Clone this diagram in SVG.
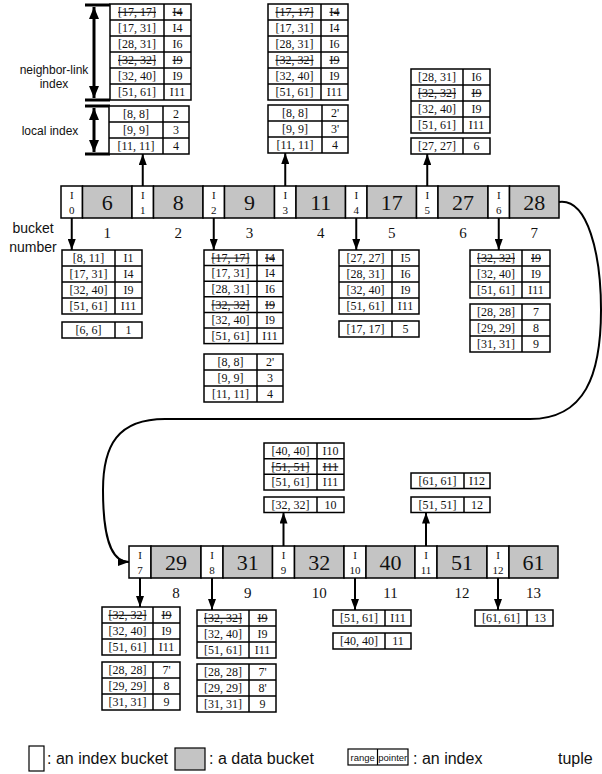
<svg xmlns="http://www.w3.org/2000/svg" width="602" height="774" viewBox="0 0 602 774">
<style>
.t{font-family:"Liberation Serif","Times New Roman",serif;font-size:12px;text-anchor:middle;fill:#111}
.s{text-decoration:line-through}
.tb{fill:#fff;stroke:#000;stroke-width:1.5}
.ln{stroke:#000;stroke-width:1.5;fill:none}
.ib{fill:#fff;stroke:#000;stroke-width:1.5}
.db{fill:#c4c4c4;stroke:#000;stroke-width:1.5}
.dn{font-family:"Liberation Serif","Times New Roman",serif;font-size:22px;text-anchor:middle;fill:#111}
.in{font-family:"Liberation Serif","Times New Roman",serif;font-size:11px;text-anchor:middle;fill:#111}
.bn{font-family:"Liberation Serif","Times New Roman",serif;font-size:15px;text-anchor:middle;fill:#111}
.sans{font-family:"Liberation Sans",Arial,sans-serif;fill:#111}
.ar{stroke:#000;stroke-width:2;fill:none;marker-end:url(#ah)}
.br{stroke:#000;stroke-width:3;fill:none}
</style>
<defs>
<marker id="ah" viewBox="0 0 11 8" refX="11" refY="4" markerWidth="11" markerHeight="8" markerUnits="userSpaceOnUse" orient="auto"><path d="M0,0 L11,4 L0,8 z" fill="#000"/></marker>
<marker id="bh" viewBox="0 0 12 10" refX="12" refY="5" markerWidth="12" markerHeight="10" markerUnits="userSpaceOnUse" orient="auto-start-reverse"><path d="M0,0 L12,5 L0,10 z" fill="#000"/></marker>
</defs>

<!-- bracket annotations -->
<g id="annot">
<line class="br" x1="85" y1="5" x2="110" y2="5"/>
<line class="br" x1="85" y1="100" x2="110" y2="100"/>
<line x1="94" y1="7" x2="94" y2="98" stroke="#000" stroke-width="3" marker-start="url(#bh)" marker-end="url(#bh)"/>
<line class="br" x1="85" y1="106" x2="110" y2="106"/>
<line class="br" x1="85" y1="154" x2="110" y2="154"/>
<line x1="94" y1="108" x2="94" y2="152" stroke="#000" stroke-width="3" marker-start="url(#bh)" marker-end="url(#bh)"/>
<text class="sans" font-size="12" text-anchor="middle" x="54" y="74">neighbor-link</text>
<text class="sans" font-size="12" text-anchor="middle" x="54" y="88">index</text>
<text class="sans" font-size="12" text-anchor="middle" x="50" y="135">local index</text>
<text class="sans" font-size="14" text-anchor="middle" x="33" y="233">bucket</text>
<text class="sans" font-size="14" text-anchor="middle" x="33" y="252">number</text>
</g>

<!-- Row 1 buckets -->
<g id="I0"><rect class="ib" x="61" y="186" width="21.5" height="32"/><text class="in" x="71.75" y="199">I</text><text class="in" x="71.75" y="214">0</text></g>
<g id="D6"><rect class="db" x="82.5" y="186" width="49.5" height="32"/><text class="dn" x="107.25" y="210">6</text></g>
<g id="I1"><rect class="ib" x="132" y="186" width="21.5" height="32"/><text class="in" x="142.75" y="199">I</text><text class="in" x="142.75" y="214">1</text></g>
<g id="D8"><rect class="db" x="153.5" y="186" width="49.5" height="32"/><text class="dn" x="178.25" y="210">8</text></g>
<g id="I2"><rect class="ib" x="203" y="186" width="21.5" height="32"/><text class="in" x="213.75" y="199">I</text><text class="in" x="213.75" y="214">2</text></g>
<g id="D9"><rect class="db" x="224.5" y="186" width="50" height="32"/><text class="dn" x="249.5" y="210">9</text></g>
<g id="I3"><rect class="ib" x="274.5" y="186" width="21.5" height="32"/><text class="in" x="285.25" y="199">I</text><text class="in" x="285.25" y="214">3</text></g>
<g id="D11"><rect class="db" x="296" y="186" width="49.5" height="32"/><text class="dn" x="320.75" y="210">11</text></g>
<g id="I4"><rect class="ib" x="345.5" y="186" width="21.5" height="32"/><text class="in" x="356.25" y="199">I</text><text class="in" x="356.25" y="214">4</text></g>
<g id="D17"><rect class="db" x="367" y="186" width="49.5" height="32"/><text class="dn" x="391.75" y="210">17</text></g>
<g id="I5"><rect class="ib" x="416.5" y="186" width="21.5" height="32"/><text class="in" x="427.25" y="199">I</text><text class="in" x="427.25" y="214">5</text></g>
<g id="D27"><rect class="db" x="438" y="186" width="50" height="32"/><text class="dn" x="463" y="210">27</text></g>
<g id="I6"><rect class="ib" x="488" y="186" width="21.5" height="32"/><text class="in" x="498.75" y="199">I</text><text class="in" x="498.75" y="214">6</text></g>
<g id="D28"><rect class="db" x="509.5" y="186" width="49.5" height="32"/><text class="dn" x="534.25" y="210">28</text></g>

<g id="bn1">
<text class="bn" x="107.25" y="238">1</text><text class="bn" x="178.25" y="238">2</text><text class="bn" x="249.5" y="238">3</text><text class="bn" x="320.75" y="238">4</text><text class="bn" x="391.75" y="238">5</text><text class="bn" x="463" y="238">6</text><text class="bn" x="534.25" y="238">7</text>
</g>

<!-- Row 2 buckets -->
<g id="I7"><rect class="ib" x="129" y="546" width="22" height="32"/><text class="in" x="140" y="559">I</text><text class="in" x="140" y="574">7</text></g>
<g id="D29"><rect class="db" x="151" y="546" width="50" height="32"/><text class="dn" x="176" y="570">29</text></g>
<g id="I8"><rect class="ib" x="201" y="546" width="22" height="32"/><text class="in" x="212" y="559">I</text><text class="in" x="212" y="574">8</text></g>
<g id="D31"><rect class="db" x="223" y="546" width="49.5" height="32"/><text class="dn" x="247.75" y="570">31</text></g>
<g id="I9"><rect class="ib" x="272.5" y="546" width="22" height="32"/><text class="in" x="283.5" y="559">I</text><text class="in" x="283.5" y="574">9</text></g>
<g id="D32"><rect class="db" x="294.5" y="546" width="49.5" height="32"/><text class="dn" x="319.25" y="570">32</text></g>
<g id="I10"><rect class="ib" x="344" y="546" width="22" height="32"/><text class="in" x="355" y="559">I</text><text class="in" x="355" y="574">10</text></g>
<g id="D40"><rect class="db" x="366" y="546" width="49" height="32"/><text class="dn" x="390.5" y="570">40</text></g>
<g id="I11"><rect class="ib" x="415" y="546" width="22" height="32"/><text class="in" x="426" y="559">I</text><text class="in" x="426" y="574">11</text></g>
<g id="D51"><rect class="db" x="437" y="546" width="50" height="32"/><text class="dn" x="462" y="570">51</text></g>
<g id="I12"><rect class="ib" x="487" y="546" width="22" height="32"/><text class="in" x="498" y="559">I</text><text class="in" x="498" y="574">12</text></g>
<g id="D61"><rect class="db" x="509" y="546" width="49" height="32"/><text class="dn" x="533.5" y="570">61</text></g>

<g id="bn2">
<text class="bn" x="176" y="598">8</text><text class="bn" x="247.75" y="598">9</text><text class="bn" x="319.25" y="598">10</text><text class="bn" x="390.5" y="598">11</text><text class="bn" x="462" y="598">12</text><text class="bn" x="533.5" y="598">13</text>
</g>

<!-- Tables above I1 -->
<g id="T1">
<rect class="tb" x="110" y="4" width="81" height="96"/>
<path class="ln" d="M110,20H191M110,36H191M110,52H191M110,68H191M110,84H191M164,4V100"/>
<text class="t s" x="137" y="16">[17, 17]</text><text class="t s" x="177.5" y="16">I4</text>
<text class="t" x="137" y="32">[17, 31]</text><text class="t" x="177.5" y="32">I4</text>
<text class="t" x="137" y="48">[28, 31]</text><text class="t" x="177.5" y="48">I6</text>
<text class="t s" x="137" y="64">[32, 32]</text><text class="t s" x="177.5" y="64">I9</text>
<text class="t" x="137" y="80">[32, 40]</text><text class="t" x="177.5" y="80">I9</text>
<text class="t" x="137" y="96">[51, 61]</text><text class="t" x="177.5" y="96">I11</text>
<rect class="tb" x="109" y="106" width="80" height="48"/>
<path class="ln" d="M109,122H189M109,138H189M163,106V154"/>
<text class="t" x="136" y="118">[8, 8]</text><text class="t" x="176" y="118">2</text>
<text class="t" x="136" y="134">[9, 9]</text><text class="t" x="176" y="134">3</text>
<text class="t" x="136" y="150">[11, 11]</text><text class="t" x="176" y="150">4</text>
</g>

<!-- Tables above I3 -->
<g id="T3">
<rect class="tb" x="268" y="4" width="80" height="96"/>
<path class="ln" d="M268,20H348M268,36H348M268,52H348M268,68H348M268,84H348M321,4V100"/>
<text class="t s" x="294.5" y="16">[17, 17]</text><text class="t s" x="334.5" y="16">I4</text>
<text class="t" x="294.5" y="32">[17, 31]</text><text class="t" x="334.5" y="32">I4</text>
<text class="t" x="294.5" y="48">[28, 31]</text><text class="t" x="334.5" y="48">I6</text>
<text class="t s" x="294.5" y="64">[32, 32]</text><text class="t s" x="334.5" y="64">I9</text>
<text class="t" x="294.5" y="80">[32, 40]</text><text class="t" x="334.5" y="80">I9</text>
<text class="t" x="294.5" y="96">[51, 61]</text><text class="t" x="334.5" y="96">I11</text>
<rect class="tb" x="268" y="105" width="80" height="48"/>
<path class="ln" d="M268,121H348M268,137H348M322,105V153"/>
<text class="t" x="295" y="117">[8, 8]</text><text class="t" x="335" y="117">2'</text>
<text class="t" x="295" y="133">[9, 9]</text><text class="t" x="335" y="133">3'</text>
<text class="t" x="295" y="149">[11, 11]</text><text class="t" x="335" y="149">4</text>
</g>

<!-- Tables above I5 -->
<g id="T5">
<rect class="tb" x="411" y="69" width="79" height="64"/>
<path class="ln" d="M411,85H490M411,101H490M411,117H490M463,69V133"/>
<text class="t" x="437" y="81">[28, 31]</text><text class="t" x="476.5" y="81">I6</text>
<text class="t s" x="437" y="97">[32, 32]</text><text class="t s" x="476.5" y="97">I9</text>
<text class="t" x="437" y="113">[32, 40]</text><text class="t" x="476.5" y="113">I9</text>
<text class="t" x="437" y="129">[51, 61]</text><text class="t" x="476.5" y="129">I11</text>
<rect class="tb" x="411" y="138" width="79" height="16"/>
<path class="ln" d="M463,138V154"/>
<text class="t" x="437" y="150">[27, 27]</text><text class="t" x="476.5" y="150">6</text>
</g>

<!-- Tables below I0 -->
<g id="B0">
<rect class="tb" x="62" y="250" width="80" height="64"/>
<path class="ln" d="M62,266H142M62,282H142M62,298H142M115,250V314"/>
<text class="t" x="88.5" y="262">[8, 11]</text><text class="t" x="128.5" y="262">I1</text>
<text class="t" x="88.5" y="278">[17, 31]</text><text class="t" x="128.5" y="278">I4</text>
<text class="t" x="88.5" y="294">[32, 40]</text><text class="t" x="128.5" y="294">I9</text>
<text class="t" x="88.5" y="310">[51, 61]</text><text class="t" x="128.5" y="310">I11</text>
<rect class="tb" x="62" y="322" width="80" height="16"/>
<path class="ln" d="M115,322V338"/>
<text class="t" x="88.5" y="334">[6, 6]</text><text class="t" x="128.5" y="334">1</text>
</g>

<!-- Tables below I2 -->
<g id="B2">
<rect class="tb" x="204" y="250" width="79" height="93.6"/>
<path class="ln" d="M204,265.6H283M204,281.2H283M204,296.8H283M204,312.4H283M204,328H283M257,250V343.6"/>
<text class="t s" x="230.5" y="261.8">[17, 17]</text><text class="t s" x="270" y="261.8">I4</text>
<text class="t" x="230.5" y="277.4">[17, 31]</text><text class="t" x="270" y="277.4">I4</text>
<text class="t" x="230.5" y="293">[28, 31]</text><text class="t" x="270" y="293">I6</text>
<text class="t s" x="230.5" y="308.6">[32, 32]</text><text class="t s" x="270" y="308.6">I9</text>
<text class="t" x="230.5" y="324.2">[32, 40]</text><text class="t" x="270" y="324.2">I9</text>
<text class="t" x="230.5" y="339.8">[51, 61]</text><text class="t" x="270" y="339.8">I11</text>
<rect class="tb" x="204" y="354" width="79" height="48"/>
<path class="ln" d="M204,370H283M204,386H283M257,354V402"/>
<text class="t" x="230.5" y="366">[8, 8]</text><text class="t" x="270" y="366">2'</text>
<text class="t" x="230.5" y="382">[9, 9]</text><text class="t" x="270" y="382">3</text>
<text class="t" x="230.5" y="398">[11, 11]</text><text class="t" x="270" y="398">4</text>
</g>

<!-- Tables below I4 -->
<g id="B4">
<rect class="tb" x="339" y="250" width="80" height="64"/>
<path class="ln" d="M339,266H419M339,282H419M339,298H419M392,250V314"/>
<text class="t" x="365.5" y="262">[27, 27]</text><text class="t" x="405.5" y="262">I5</text>
<text class="t" x="365.5" y="278">[28, 31]</text><text class="t" x="405.5" y="278">I6</text>
<text class="t" x="365.5" y="294">[32, 40]</text><text class="t" x="405.5" y="294">I9</text>
<text class="t" x="365.5" y="310">[51, 61]</text><text class="t" x="405.5" y="310">I11</text>
<rect class="tb" x="339" y="321" width="80" height="16"/>
<path class="ln" d="M392,321V337"/>
<text class="t" x="365.5" y="333">[17, 17]</text><text class="t" x="405.5" y="333">5</text>
</g>

<!-- Tables below I6 -->
<g id="B6">
<rect class="tb" x="470" y="250" width="80" height="48"/>
<path class="ln" d="M470,266H550M470,282H550M522,250V298"/>
<text class="t s" x="496" y="262">[32, 32]</text><text class="t s" x="536" y="262">I9</text>
<text class="t" x="496" y="278">[32, 40]</text><text class="t" x="536" y="278">I9</text>
<text class="t" x="496" y="294">[51, 61]</text><text class="t" x="536" y="294">I11</text>
<rect class="tb" x="470" y="304" width="80" height="48"/>
<path class="ln" d="M470,320H550M470,336H550M522,304V352"/>
<text class="t" x="496" y="316">[28, 28]</text><text class="t" x="536" y="316">7</text>
<text class="t" x="496" y="332">[29, 29]</text><text class="t" x="536" y="332">8</text>
<text class="t" x="496" y="348">[31, 31]</text><text class="t" x="536" y="348">9</text>
</g>

<!-- Tables above I9 -->
<g id="A9">
<rect class="tb" x="264" y="443" width="80" height="47"/>
<path class="ln" d="M264,458.7H344M264,474.3H344M317,443V490"/>
<text class="t" x="290.5" y="454.8">[40, 40]</text><text class="t" x="330.5" y="454.8">I10</text>
<text class="t s" x="290.5" y="470.5">[51, 51]</text><text class="t s" x="330.5" y="470.5">I11</text>
<text class="t" x="290.5" y="486.2">[51, 61]</text><text class="t" x="330.5" y="486.2">I11</text>
<rect class="tb" x="264" y="497" width="80" height="15.5"/>
<path class="ln" d="M317,497V512.5"/>
<text class="t" x="290.5" y="509">[32, 32]</text><text class="t" x="330.5" y="509">10</text>
</g>

<!-- Tables above I11 -->
<g id="A11">
<rect class="tb" x="411" y="473" width="79" height="15.5"/>
<path class="ln" d="M464,473V488.5"/>
<text class="t" x="437.5" y="485">[61, 61]</text><text class="t" x="477" y="485">I12</text>
<rect class="tb" x="411" y="497" width="79" height="15.5"/>
<path class="ln" d="M464,497V512.5"/>
<text class="t" x="437.5" y="509">[51, 51]</text><text class="t" x="477" y="509">12</text>
</g>

<!-- Tables below I7 -->
<g id="B7">
<rect class="tb" x="102" y="607" width="78" height="48"/>
<path class="ln" d="M102,623H180M102,639H180M153,607V655"/>
<text class="t s" x="127.5" y="619">[32, 32]</text><text class="t s" x="166.5" y="619">I9</text>
<text class="t" x="127.5" y="635">[32, 40]</text><text class="t" x="166.5" y="635">I9</text>
<text class="t" x="127.5" y="651">[51, 61]</text><text class="t" x="166.5" y="651">I11</text>
<rect class="tb" x="102" y="662" width="78" height="48"/>
<path class="ln" d="M102,678H180M102,694H180M153,662V710"/>
<text class="t" x="127.5" y="674">[28, 28]</text><text class="t" x="166.5" y="674">7'</text>
<text class="t" x="127.5" y="690">[29, 29]</text><text class="t" x="166.5" y="690">8</text>
<text class="t" x="127.5" y="706">[31, 31]</text><text class="t" x="166.5" y="706">9</text>
</g>

<!-- Tables below I8 -->
<g id="B8">
<rect class="tb" x="197" y="610" width="79" height="48"/>
<path class="ln" d="M197,626H276M197,642H276M249,610V658"/>
<text class="t s" x="223" y="622">[32, 32]</text><text class="t s" x="262.5" y="622">I9</text>
<text class="t" x="223" y="638">[32, 40]</text><text class="t" x="262.5" y="638">I9</text>
<text class="t" x="223" y="654">[51, 61]</text><text class="t" x="262.5" y="654">I11</text>
<rect class="tb" x="197" y="664" width="79" height="48"/>
<path class="ln" d="M197,680H276M197,696H276M249,664V712"/>
<text class="t" x="223" y="676">[28, 28]</text><text class="t" x="262.5" y="676">7'</text>
<text class="t" x="223" y="692">[29, 29]</text><text class="t" x="262.5" y="692">8'</text>
<text class="t" x="223" y="708">[31, 31]</text><text class="t" x="262.5" y="708">9</text>
</g>

<!-- Tables below I10 -->
<g id="B10">
<rect class="tb" x="333" y="610" width="78" height="16"/>
<path class="ln" d="M385,610V626"/>
<text class="t" x="359" y="622">[51, 61]</text><text class="t" x="398" y="622">I11</text>
<rect class="tb" x="333" y="633" width="78" height="16"/>
<path class="ln" d="M385,633V649"/>
<text class="t" x="359" y="645">[40, 40]</text><text class="t" x="398" y="645">11</text>
</g>

<!-- Tables below I12 -->
<g id="B12">
<rect class="tb" x="475" y="610" width="78" height="16"/>
<path class="ln" d="M527,610V626"/>
<text class="t" x="501" y="622">[61, 61]</text><text class="t" x="540" y="622">13</text>
</g>

<!-- connectors -->
<g id="connectors">
<line class="ar" x1="142.75" y1="186" x2="142.75" y2="154"/>
<line class="ar" x1="285.25" y1="186" x2="285.25" y2="153"/>
<line class="ar" x1="427.25" y1="186" x2="427.25" y2="154"/>
<line class="ar" x1="71.75" y1="218" x2="71.75" y2="250"/>
<line class="ar" x1="213.75" y1="218" x2="213.75" y2="250"/>
<line class="ar" x1="356.25" y1="218" x2="356.25" y2="250"/>
<line class="ar" x1="498.75" y1="218" x2="498.75" y2="250"/>
<line class="ar" x1="140" y1="578" x2="140" y2="607"/>
<line class="ar" x1="212" y1="578" x2="212" y2="610"/>
<line class="ar" x1="355" y1="578" x2="355" y2="610"/>
<line class="ar" x1="498" y1="578" x2="498" y2="610"/>
<line class="ar" x1="283.5" y1="546" x2="283.5" y2="512.5"/>
<line class="ar" x1="426" y1="546" x2="426" y2="512.5"/>
<path class="ar" d="M559,202 C588,198 601,255 601,310 C601,375 585,419 530,419 L165,419 C118,419 103,445 103,490 C103,535 110,562 129,562"/>
</g>

<!-- legend -->
<g id="legend">
<rect x="29" y="746" width="15" height="25" fill="#fff" stroke="#000" stroke-width="1.2"/>
<text class="sans" font-size="16" x="47" y="764">: an index bucket</text>
<rect x="175" y="748" width="30" height="22" fill="#c4c4c4" stroke="#000" stroke-width="1.2"/>
<text class="sans" font-size="16" x="209" y="764">: a data bucket</text>
<rect x="348" y="749" width="60" height="16" fill="#fff" stroke="#000" stroke-width="1.2"/>
<line x1="377.5" y1="749" x2="377.5" y2="765" stroke="#000" stroke-width="1.2"/>
<text class="sans" font-size="9.5" text-anchor="middle" x="362.75" y="761">range</text>
<text class="sans" font-size="9.5" text-anchor="middle" x="392.75" y="761">pointer</text>
<text class="sans" font-size="16" x="413" y="764">: an index <tspan x="558">tuple</tspan></text>
</g>
</svg>
